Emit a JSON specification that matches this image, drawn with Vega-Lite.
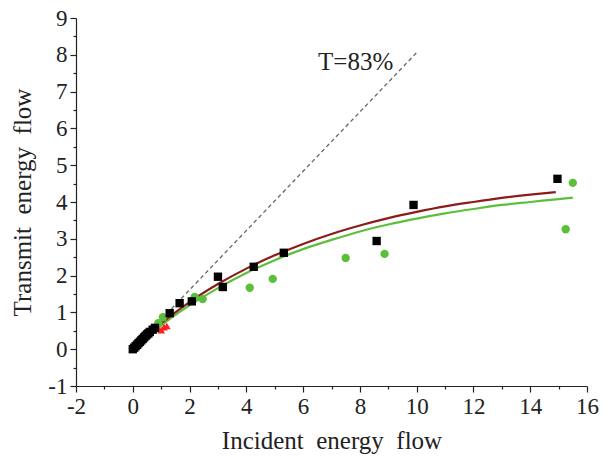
{
  "$schema": "https://vega.github.io/schema/vega-lite/v6.json",
  "width": 511,
  "height": 368,
  "autosize": "none",
  "padding": {"left": 76, "top": 18, "right": 22, "bottom": 71},
  "background": "white",
  "config": {
    "view": {"stroke": null},
    "font": "Liberation Serif",
    "axis": {
      "grid": false,
      "domainColor": "#222",
      "tickColor": "#222",
      "labelColor": "#222",
      "titleColor": "#222",
      "labelFont": "Liberation Serif",
      "titleFont": "Liberation Serif",
      "labelFontSize": 23,
      "titleFontSize": 25,
      "titleFontWeight": "normal",
      "domainWidth": 1.2,
      "tickWidth": 1.2
    }
  },
  "datasets": {
    "points": [
      {"x": 0.0, "y": 0.0, "s": "black"},
      {"x": 0.05, "y": 0.04, "s": "black"},
      {"x": 0.1, "y": 0.08, "s": "black"},
      {"x": 0.15, "y": 0.12, "s": "black"},
      {"x": 0.2, "y": 0.16, "s": "black"},
      {"x": 0.25, "y": 0.2, "s": "black"},
      {"x": 0.3, "y": 0.24, "s": "black"},
      {"x": 0.35, "y": 0.28, "s": "black"},
      {"x": 0.4, "y": 0.32, "s": "black"},
      {"x": 0.45, "y": 0.36, "s": "black"},
      {"x": 0.5, "y": 0.4, "s": "black"},
      {"x": 0.55, "y": 0.43, "s": "black"},
      {"x": 0.6, "y": 0.47, "s": "black"},
      {"x": 0.7, "y": 0.53, "s": "black"},
      {"x": 0.78, "y": 0.58, "s": "black"},
      {"x": 1.3, "y": 0.98, "s": "black"},
      {"x": 1.65, "y": 1.25, "s": "black"},
      {"x": 2.08, "y": 1.3, "s": "black"},
      {"x": 3.0, "y": 1.97, "s": "black"},
      {"x": 3.17, "y": 1.69, "s": "black"},
      {"x": 4.26, "y": 2.24, "s": "black"},
      {"x": 5.32, "y": 2.62, "s": "black"},
      {"x": 8.59, "y": 2.94, "s": "black"},
      {"x": 9.89, "y": 3.92, "s": "black"},
      {"x": 14.96, "y": 4.63, "s": "black"},
      {"x": 0.02, "y": 0.01, "s": "red"},
      {"x": 0.88, "y": 0.58, "s": "red"},
      {"x": 1.0, "y": 0.52, "s": "red"},
      {"x": 1.1, "y": 0.6, "s": "red"},
      {"x": 1.2, "y": 0.63, "s": "red"},
      {"x": 0.9, "y": 0.71, "s": "green"},
      {"x": 1.06, "y": 0.87, "s": "green"},
      {"x": 2.18, "y": 1.42, "s": "green"},
      {"x": 2.46, "y": 1.36, "s": "green"},
      {"x": 4.12, "y": 1.67, "s": "green"},
      {"x": 4.93, "y": 1.91, "s": "green"},
      {"x": 7.5, "y": 2.48, "s": "green"},
      {"x": 8.87, "y": 2.59, "s": "green"},
      {"x": 15.25, "y": 3.26, "s": "green"},
      {"x": 15.5, "y": 4.52, "s": "green"}
    ],
    "redfit": [
      {"x": 0, "y": 0}, {"x": 0.5, "y": 0.36}, {"x": 1, "y": 0.7}, {"x": 1.5, "y": 1.0},
      {"x": 2, "y": 1.28}, {"x": 3, "y": 1.77}, {"x": 4, "y": 2.19}, {"x": 5, "y": 2.55},
      {"x": 6, "y": 2.86}, {"x": 7, "y": 3.13}, {"x": 8, "y": 3.36}, {"x": 9, "y": 3.56},
      {"x": 10, "y": 3.73}, {"x": 11, "y": 3.88}, {"x": 12, "y": 4.0}, {"x": 13, "y": 4.11},
      {"x": 14, "y": 4.2}, {"x": 14.9, "y": 4.27}
    ],
    "greenfit": [
      {"x": 0, "y": 0}, {"x": 0.5, "y": 0.33}, {"x": 1, "y": 0.64}, {"x": 1.5, "y": 0.93},
      {"x": 2, "y": 1.19}, {"x": 3, "y": 1.66}, {"x": 4, "y": 2.07}, {"x": 5, "y": 2.42},
      {"x": 6, "y": 2.72}, {"x": 7, "y": 2.97}, {"x": 8, "y": 3.2}, {"x": 9, "y": 3.39},
      {"x": 10, "y": 3.55}, {"x": 11, "y": 3.69}, {"x": 12, "y": 3.81}, {"x": 13, "y": 3.92},
      {"x": 14, "y": 4.0}, {"x": 15, "y": 4.08}, {"x": 15.5, "y": 4.12}
    ],
    "tline": [
      {"x": 0, "y": 0}, {"x": 10.05, "y": 8.1}
    ],
    "label": [
      {"x": 7.85, "y": 7.8, "t": "T=83%"}
    ]
  },
  "encoding": {
    "x": {
      "field": "x", "type": "quantitative",
      "scale": {"domain": [-2, 16], "nice": false, "zero": false},
      "axis": {
        "title": "Incident\u00a0 energy\u00a0 flow",
        "values": [-2, -1, 0, 1, 2, 3, 4, 5, 6, 7, 8, 9, 10, 11, 12, 13, 14, 15, 16],
        "labelExpr": "datum.value % 2 === 0 ? '' + datum.value : ''",
        "tickSize": {"condition": {"test": "datum.value % 2 !== 0", "value": 3}, "value": 6},
        "labelPadding": 3,
        "titlePadding": 10,
        "labelFlush": false,
        "labelOverlap": false
      }
    },
    "y": {
      "field": "y", "type": "quantitative",
      "scale": {"domain": [-1, 9], "nice": false, "zero": false},
      "axis": {
        "title": "Transmit\u00a0 energy\u00a0 flow",
        "values": [-1, -0.5, 0, 0.5, 1, 1.5, 2, 2.5, 3, 3.5, 4, 4.5, 5, 5.5, 6, 6.5, 7, 7.5, 8, 8.5, 9],
        "labelExpr": "datum.value % 1 === 0 ? '' + datum.value : ''",
        "tickSize": {"condition": {"test": "datum.value % 1 !== 0", "value": 3}, "value": 6},
        "labelPadding": 3,
        "titlePadding": 12,
        "labelFlush": false,
        "labelOverlap": false
      }
    }
  },
  "layer": [
    {
      "data": {"name": "tline"},
      "mark": {"type": "line", "color": "#666", "strokeDash": [4, 3], "strokeWidth": 1.3}
    },
    {
      "data": {"name": "greenfit"},
      "mark": {"type": "line", "color": "#5cbf3c", "strokeWidth": 2.2, "interpolate": "monotone"}
    },
    {
      "data": {"name": "redfit"},
      "mark": {"type": "line", "color": "#8b1c1c", "strokeWidth": 2.2, "interpolate": "monotone"}
    },
    {
      "data": {"name": "points"},
      "transform": [{"filter": "datum.s === 'green'"}],
      "mark": {"type": "point", "shape": "circle", "filled": true, "color": "#5cbf3c", "size": 70, "opacity": 1}
    },
    {
      "data": {"name": "points"},
      "transform": [{"filter": "datum.s === 'red'"}],
      "mark": {"type": "point", "shape": "triangle-up", "filled": true, "color": "#ff2020", "size": 60, "opacity": 1}
    },
    {
      "data": {"name": "points"},
      "transform": [{"filter": "datum.s === 'black'"}],
      "mark": {"type": "point", "shape": "square", "filled": true, "color": "#000", "size": 70, "opacity": 1}
    },
    {
      "data": {"name": "label"},
      "mark": {"type": "text", "font": "Liberation Serif", "fontSize": 25, "color": "#222", "align": "center", "baseline": "middle"},
      "encoding": {"text": {"field": "t"}}
    }
  ]
}
